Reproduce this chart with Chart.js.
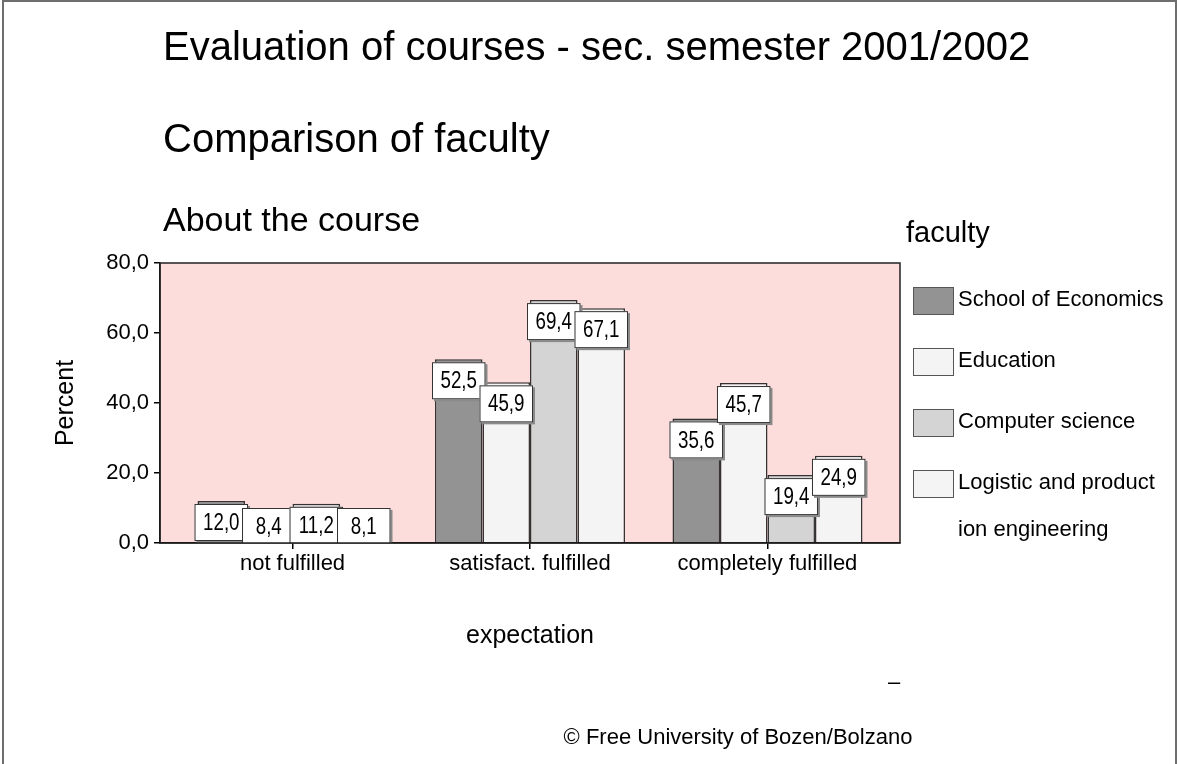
<!DOCTYPE html>
<html>
<head>
<meta charset="utf-8">
<script src="https://cdn.jsdelivr.net/npm/chart.js@4.4.1/dist/chart.umd.min.js"></script>
<style>
  html, body { margin: 0; padding: 0; background: #fff; }
  #wrap { position: relative; width: 1178px; height: 764px; }
  canvas { display: block; }
</style>
</head>
<body>
<div id="wrap"><canvas id="c" width="1178" height="764"></canvas></div>
<script>
// ---- data ----
const categories = ['not fulfilled', 'satisfact. fulfilled', 'completely fulfilled'];
const seriesNames = ['School of Economics', 'Education', 'Computer science', 'Logistic and production engineering'];
const legendLines = [['School of Economics'], ['Education'], ['Computer science'], ['Logistic and product', 'ion engineering']];
const schoolOfEconomics = [12.0, 52.5, 35.6];
const education = [8.4, 45.9, 45.7];
const computerScience = [11.2, 69.4, 19.4];
const logisticProduction = [8.1, 67.1, 24.9];
const yTicks = [0, 20, 40, 60, 80];
const titleLines = ['Evaluation of courses - sec. semester 2001/2002', 'Comparison of faculty', 'About the course'];
const legendTitle = 'faculty';
const xTitle = 'expectation';
const yTitle = 'Percent';
const footer = '\u00A9 Free University of Bozen/Bolzano';

const seriesValues = [schoolOfEconomics, education, computerScience, logisticProduction];
const seriesColors = ['#939393', '#f4f4f4', '#d4d4d4', '#f4f4f4'];
const FONT = '"Liberation Sans", Arial, sans-serif';
const fmt = v => Number(v).toFixed(1).replace('.', ',');

Chart.defaults.font.family = FONT;
Chart.defaults.color = '#000';

const pagePlugin = {
  id: 'page',
  beforeDraw(chart) {
    const ctx = chart.ctx, a = chart.chartArea;
    ctx.save();
    ctx.fillStyle = '#fff';
    ctx.fillRect(0, 0, chart.width, chart.height);
    ctx.strokeStyle = '#6e6e6e';
    ctx.lineWidth = 2;
    ctx.beginPath();
    ctx.moveTo(3, chart.height); ctx.lineTo(3, 1); ctx.lineTo(1176, 1); ctx.lineTo(1176, chart.height);
    ctx.stroke();
    ctx.fillStyle = '#fddcdc';
    ctx.fillRect(a.left, a.top, a.right - a.left, a.bottom - a.top);
    ctx.restore();
  },
  afterDraw(chart) {
    const ctx = chart.ctx, a = chart.chartArea;
    ctx.save();
    ctx.strokeStyle = '#222';
    ctx.lineWidth = 1.5;
    ctx.strokeRect(a.left, a.top, a.right - a.left, a.bottom - a.top);
    ctx.fillStyle = '#000';
    ctx.textAlign = 'left';
    ctx.textBaseline = 'alphabetic';
    ctx.font = '40px ' + FONT;
    ctx.fillText(titleLines[0], 163, 60);
    ctx.fillText(titleLines[1], 163, 152);
    ctx.font = '34px ' + FONT;
    ctx.fillText(titleLines[2], 163, 231);
    ctx.textBaseline = 'middle';
    ctx.font = '29px ' + FONT;
    ctx.fillText(legendTitle, 906, 234);
    ctx.font = '22px ' + FONT;
    chart.data.datasets.forEach((ds, i) => {
      const cy = 300 + i * 61;
      ctx.fillStyle = ds.backgroundColor;
      ctx.fillRect(913, cy - 13, 40, 27);
      ctx.strokeStyle = '#555';
      ctx.lineWidth = 1;
      ctx.strokeRect(913.5, cy - 12.5, 40, 27);
      ctx.fillStyle = '#000';
      legendLines[i].forEach((t, j) => ctx.fillText(t, 958, cy + j * 47));
    });
    ctx.textAlign = 'center';
    ctx.font = '22px ' + FONT;
    ctx.fillText('\u2013', 894, 683);
    ctx.fillText(footer, 738, 738);
    ctx.restore();
  }
};

const valueBoxPlugin = {
  id: 'valueBoxes',
  afterDatasetsDraw(chart) {
    const ctx = chart.ctx, a = chart.chartArea;
    ctx.save();
    ctx.beginPath();
    ctx.rect(a.left, a.top, a.right - a.left, a.bottom - a.top);
    ctx.clip();
    chart.data.datasets.forEach((ds, i) => {
      const meta = chart.getDatasetMeta(i);
      meta.data.forEach((el, j) => {
        const w = el.width + 6, h = 37;
        const left = el.x - w / 2;
        const top = Math.min(el.y + 3, a.bottom - 35);
        ctx.fillStyle = '#8a8a8a';
        ctx.fillRect(left + 2, top + 2, w, h);
        ctx.fillStyle = '#fff';
        ctx.fillRect(left, top, w, h);
        ctx.strokeStyle = '#333';
        ctx.lineWidth = 1;
        ctx.strokeRect(left + 0.5, top + 0.5, w - 1, h - 1);
        ctx.save();
        ctx.translate(el.x, top + h / 2 + 1);
        ctx.scale(0.78, 1);
        ctx.fillStyle = '#000';
        ctx.font = '24px ' + FONT;
        ctx.textAlign = 'center';
        ctx.textBaseline = 'middle';
        ctx.fillText(fmt(ds.data[j].y), 0, 0);
        ctx.restore();
      });
    });
    ctx.restore();
  }
};

new Chart(document.getElementById('c'), {
  type: 'bar',
  data: {
    datasets: seriesNames.map((name, i) => ({
      label: name,
      data: seriesValues[i].map((v, k) => ({ x: k, y: v })),
      backgroundColor: seriesColors[i],
      borderColor: '#333',
      borderWidth: 1.5,
      categoryPercentage: 0.8,
      barPercentage: 1.0
    }))
  },
  options: {
    responsive: false,
    animation: false,
    events: [],
    layout: { padding: { left: 47, top: 263, right: 278, bottom: 109 } },
    plugins: { legend: { display: false }, title: { display: false }, tooltip: { enabled: false } },
    scales: {
      x: {
        type: 'linear',
        offset: false,
        min: -0.558,
        max: 2.558,
        afterBuildTicks: s => { s.ticks = categories.map((c, i) => ({ value: i })); },
        afterFit: s => { s.height = 112; },
        ticks: {
          autoSkip: false,
          maxRotation: 0,
          padding: 2,
          font: { size: 22 },
          color: '#000',
          callback: (v, idx) => categories[idx]
        },
        grid: { display: true, offset: false, drawOnChartArea: false, drawTicks: true, tickLength: 6, color: '#000', lineWidth: 1.5 },
        border: { display: true, color: '#000', width: 1.5 },
        title: { display: true, text: xTitle, font: { size: 25 }, color: '#000', padding: { top: 0, bottom: 4 } }
      },
      y: {
        min: 0,
        max: 80,
        afterBuildTicks: s => { s.ticks = yTicks.map(v => ({ value: v })); },
        afterFit: s => { s.width = 113; },
        ticks: {
          padding: 5,
          font: { size: 22 },
          color: '#000',
          callback: v => fmt(v)
        },
        grid: { display: true, drawOnChartArea: false, drawTicks: true, tickLength: 6, color: '#000', lineWidth: 1.5 },
        border: { display: true, color: '#000', width: 1.5 },
        title: { display: true, text: yTitle, font: { size: 25 }, color: '#000', padding: { top: 4, bottom: 0 } }
      }
    }
  },
  plugins: [pagePlugin, valueBoxPlugin]
});
</script>
</body>
</html>
